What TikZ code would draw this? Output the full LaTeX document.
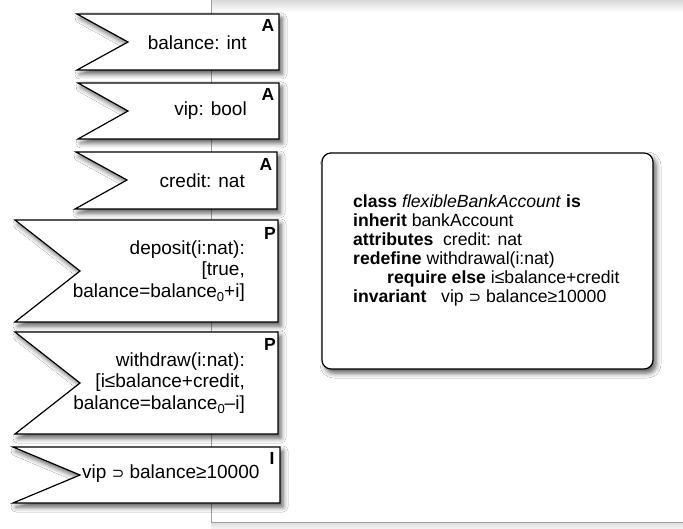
\documentclass[tikz,border=0pt]{standalone}
\usepackage{fontspec}
\setmainfont{Liberation Sans}
\newfontfamily\symfont{DejaVu Sans}
\usetikzlibrary{shadows.blur}
\newcommand{\mysubz}{\raisebox{-4.5pt}{\fontsize{13}{13}\selectfont 0}}
\newcommand{\mysups}{{\symfont\fontsize{15}{15}\selectfont ⊃}}
\begin{document}
\begin{tikzpicture}[x=1pt,y=-1pt,
  flagshape/.style={draw=black, line width=1.2pt, fill=white,
    blur shadow={shadow xshift=3pt, shadow yshift=-4pt, shadow blur radius=5pt, shadow opacity=65}},
  flagtext/.style={font=\fontsize{19}{21.5}\selectfont, align=right, anchor=east, inner sep=0pt},
  tagtext/.style={font=\fontsize{17.5}{17.5}\selectfont\bfseries, inner sep=0pt},
  classbox/.style={draw=black, line width=1.2pt, fill=white, rounded corners=9pt,
    blur shadow={shadow xshift=3pt, shadow yshift=-4pt, shadow blur radius=5pt, shadow opacity=65}},
  classtext/.style={font=\fontsize{17.6}{19}\selectfont, anchor=mid west, inner sep=0pt}]
\useasboundingbox (0,0) rectangle (683,529);
% panel background
\fill[white] (0,0) rectangle (683,529);
\fill[gray!12] (211,0) rectangle (683,529);
\shade[top color=gray!30, bottom color=white] (211,0) rectangle (683,12);
\fill[white] (211,12) rectangle (683,522);
\shade[top color=gray!25, bottom color=gray!8] (211,523) rectangle (683,529);
\draw[gray!75, line width=1pt] (211.5,0) -- (211.5,522.5) -- (683,522.5);
% flags
\draw[flagshape] (77,14) -- (279,14) -- (279,70) -- (77,70) -- (128,42) -- cycle;
\draw[flagshape] (78,83) -- (279,83) -- (279,139) -- (78,139) -- (128,111) -- cycle;
\draw[flagshape] (76,152) -- (277,152) -- (277,209) -- (75,209) -- (127,180) -- cycle;
\draw[flagshape] (15,220) -- (278,220) -- (278,322) -- (15,322) -- (80,271) -- cycle;
\draw[flagshape] (15,332) -- (278,332) -- (278,434) -- (15,434) -- (80,383) -- cycle;
\draw[flagshape] (13,447) -- (280,447) -- (280,503) -- (13,503) -- (80,475) -- cycle;
% flag texts
\node[flagtext] (t1) at (247,43) {balance: int};
\node[flagtext] (t2) at (247,111) {vip: bool};
\node[flagtext] (t3) at (245,181) {credit: nat};
\node[flagtext] (t4) at (245,271) {deposit(i:nat):\\{}[true,\\balance=balance\mysubz+i]};
\node[flagtext] (t5) at (245,383) {withdraw(i:nat):\\{}[i≤balance+credit,\\balance=balance\mysubz–i]};
\node[flagtext, anchor=west] (t6) at (82,474) {vip \mysups{} balance≥10000};
% tags
\node[tagtext] (g1) at (268,25) {A};
\node[tagtext] (g2) at (268,94) {A};
\node[tagtext] (g3) at (266,164) {A};
\node[tagtext] (g4) at (270,233) {P};
\node[tagtext] (g5) at (270,344) {P};
\node[tagtext] (g6) at (272,458) {I};
% class box
\draw[classbox] (322,153) rectangle (653,369);
\node[classtext] (c1) at (353,205) {\textbf{class} \textit{flexibleBankAccount} \textbf{is}};
\node[classtext] (c2) at (353,224) {\textbf{inherit} bankAccount};
\node[classtext] (c3) at (353,243) {\textbf{attributes}\ \ credit: nat};
\node[classtext] (c4) at (353,262) {\textbf{redefine} withdrawal(i:nat)};
\node[classtext] (c5) at (387,281) {\textbf{require else} i≤balance+credit};
\node[classtext] (c6) at (353,300) {\textbf{invariant}\ \ \ vip \mysups{} balance≥10000};
\end{tikzpicture}
\end{document}
